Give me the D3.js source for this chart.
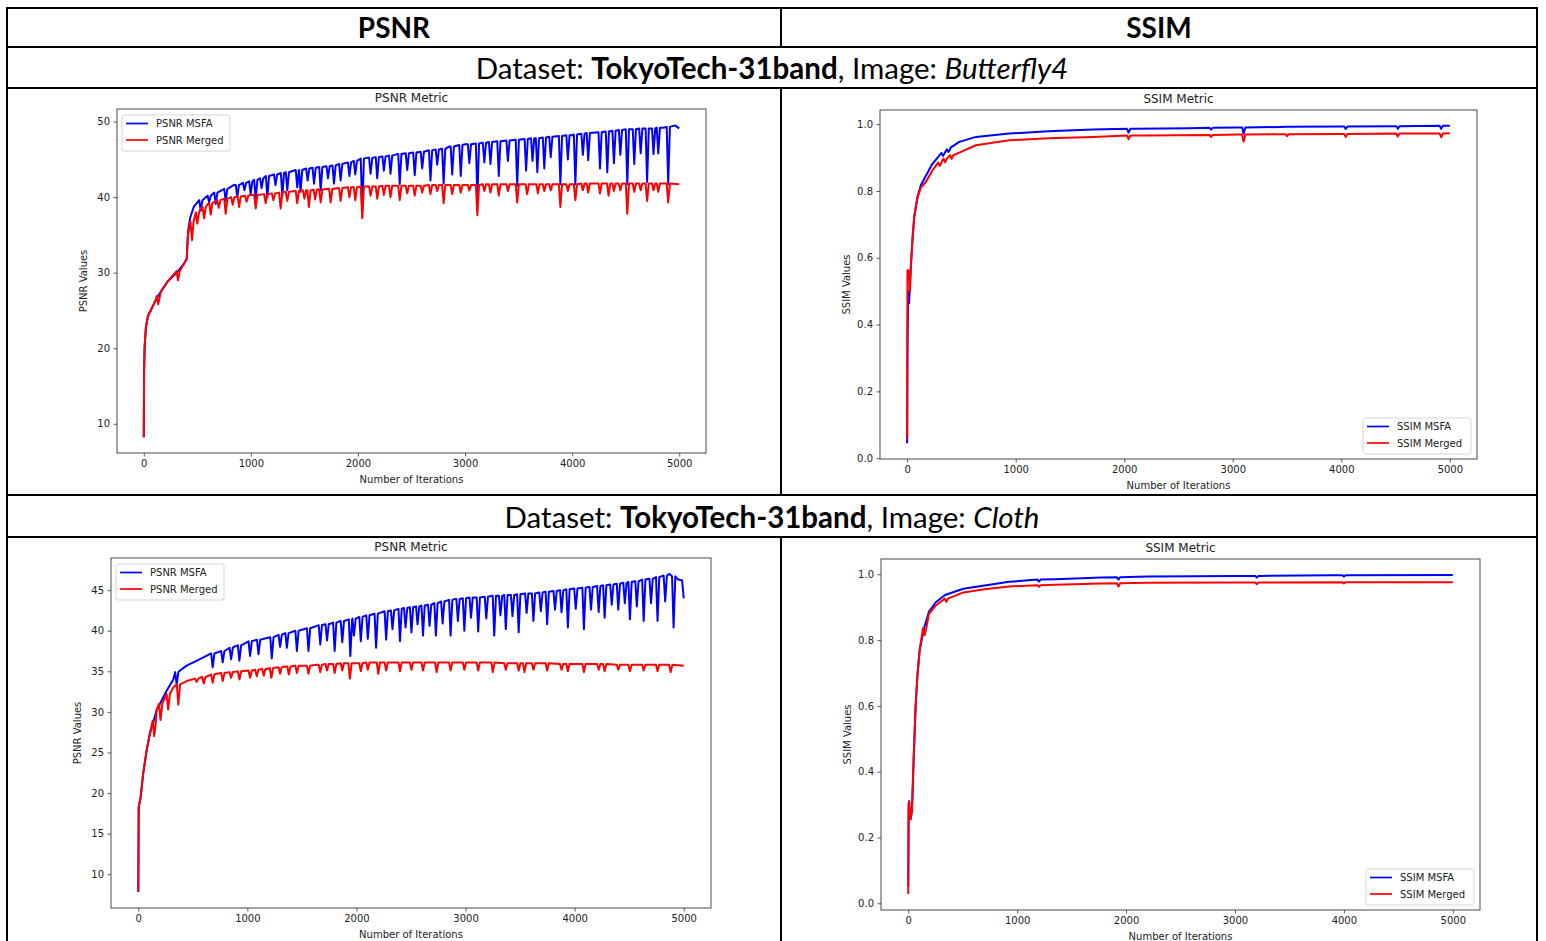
<!DOCTYPE html>
<html>
<head>
<meta charset="utf-8">
<script src="https://cdn.jsdelivr.net/npm/d3@7/dist/d3.min.js"></script>
<style>
  body { margin: 0; background: #fff; }
  .mpl text { font-family: "DejaVu Sans", sans-serif; fill: #222; }
  .cell { font-family: Lato, "Open Sans", sans-serif; fill: #000; }
</style>
</head>
<body>
<svg id="page" width="1546" height="941"></svg>
<script>
// ---- data ([iteration, value]; dips are [iteration, shoulder, bottom]) ----
const xTicks = [0, 1000, 2000, 3000, 4000, 5000];
const psnrTicksButterfly = [10, 20, 30, 40, 50];
const psnrTicksCloth = [10, 15, 20, 25, 30, 35, 40, 45];
const ssimTicks = [0, 0.2, 0.4, 0.6, 0.8, 1.0];

const headerLabels = ["PSNR", "SSIM"];
const datasetName = "TokyoTech-31band";
const imageNames = ["Butterfly4", "Cloth"];

// Butterfly4 - PSNR
const bflyPsnrMsfa = [[0,8.2],[3,17],[8,20.2],[20,22.8],[40,24.3],[65,25],[112,26.4],[160,27.5],[221,28.8],[314,30.1],[376,31.2],[401,31.8],
  [413,35.4],[432,37.2],[466,38.7],[532,39.6],[600,40.2],[687,40.8],[840,41.6],[1000,42.1],[1154,42.8],[1300,43.2],[1464,43.6],[1776,44.2],
  [2087,45.2],[2366,45.7],[2600,46],[2850,46.7],[3000,47],[3250,47.3],[3500,47.6],[3750,47.9],[4000,48.2],[4250,48.6],[4500,48.9],
  [4700,49.1],[4850,49.2],[4960,49.5],[5000,49.1]];
const bflyPsnrMsfaDips = [[532,39.6,38.2],[610,40.2,39.3],[672,40.6,39.1],[765,41.1,39.5],[873,41.6,40],[940,41.9,40.9],[998,42.1,40.4],
  [1045,42.3,39.6],[1100,42.5,41.2],[1154,42.8,40],[1230,43,41.6],[1294,43.2,40.2],[1340,43.3,40.9],[1433,43.6,41.3],[1464,43.6,40.7],
  [1530,43.8,42.2],[1590,43.9,41.8],[1652,44,40.9],[1720,44.1,42.5],[1776,44.2,41.8],[1838,44.4,42.2],[1920,44.6,42.8],[1975,44.8,43],
  [2040,45.1,38.2],[2118,45.2,43.1],[2180,45.3,42.5],[2242,45.4,43.5],[2304,45.5,43.1],[2390,45.7,41.7],[2460,45.8,43.6],[2530,45.9,42.9],
  [2600,46,43.8],[2677,46.2,42.2],[2740,46.3,44.3],[2800,46.4,41.8],[2880,46.7,43],[2960,46.9,42.8],[3040,47,44.5],[3115,47.1,40],
  [3180,47.2,44.6],[3237,47.3,44.4],[3315,47.4,42.8],[3400,47.5,44.8],[3487,47.6,41.5],[3570,47.7,43.5],[3630,47.8,44.8],[3675,47.8,43.3],
  [3740,47.9,43.8],[3800,48,45.3],[3890,48.1,41.7],[3960,48.2,45],[4030,48.3,41.7],[4100,48.4,45.6],[4150,48.5,44.9],[4260,48.6,43.8],
  [4328,48.7,43.3],[4390,48.8,44.5],[4450,48.9,45.6],[4515,49,41.7],[4580,49,44.4],[4640,49.1,45.8],[4700,49.1,42],[4760,49.1,45.7],
  [4804,49.2,45.8],[4897,49.3,41.7]];
const bflyPsnrMerged = [[0,8.2],[3,17],[8,20.2],[20,22.8],[40,24.3],[65,25],[112,26.4],[160,27.5],[221,28.8],[314,30.1],[376,31.2],[401,31.8],
  [413,35],[432,36.8],[466,37.6],[532,38.5],[600,39.1],[687,39.6],[840,40],[1000,40.3],[1154,40.5],[1300,40.7],[1464,40.9],[1776,41.1],
  [2087,41.4],[2400,41.5],[2800,41.6],[3300,41.7],[4000,41.7],[4500,41.8],[5000,41.7]];
const bflyPsnrMergedDips = [[135,26.9,25.8],[320,30.2,29],[450,36.8,34.3],[500,38,36.5],[563,38.7,37.2],[625,39.2,37.7],[700,39.6,38.6],
  [765,39.8,37.8],[830,40,39],[890,40.1,38.7],[960,40.2,39.4],[1045,40.3,38.5],[1138,40.4,39.2],[1210,40.5,39.6],[1278,40.6,38.5],
  [1340,40.7,39.5],[1433,40.8,39.2],[1500,40.9,39.8],[1542,40.9,38.7],[1600,41,39.7],[1652,41,39.3],[1745,41.1,39.3],[1838,41.2,39.5],
  [1920,41.3,40],[1975,41.3,39.6],[2040,41.4,37.2],[2118,41.4,40.2],[2180,41.4,39.8],[2242,41.5,40.3],[2304,41.5,40],[2390,41.5,39.6],
  [2460,41.5,40.5],[2530,41.5,40.2],[2600,41.5,40.6],[2677,41.6,40.4],[2740,41.6,40.8],[2800,41.6,39.2],[2880,41.6,40.4],[2960,41.6,40.6],
  [3040,41.6,40.9],[3115,41.6,37.6],[3180,41.7,40.8],[3237,41.7,40.6],[3315,41.7,40.2],[3400,41.7,40.8],[3487,41.7,39.3],[3580,41.7,40.4],
  [3680,41.7,40.5],[3740,41.7,40.8],[3800,41.7,40.9],[3890,41.7,38.7],[3960,41.7,40.8],[4030,41.7,39.6],[4100,41.8,40.9],[4150,41.8,40.6],
  [4260,41.8,40.5],[4340,41.8,40.2],[4390,41.8,40.8],[4450,41.8,40.9],[4515,41.8,37.8],[4580,41.8,40.7],[4640,41.8,40.9],[4700,41.8,39.5],
  [4760,41.8,40.9],[4804,41.8,40.7],[4897,41.8,39.3]];

// Butterfly4 - SSIM
const bflySsimMsfa = [[0,0.045],[4,0.35],[10,0.5],[18,0.464],[34,0.573],[49,0.653],[65,0.722],[95,0.782],[126,0.817],[172,0.845],
  [230,0.88],[326,0.912],[400,0.93],[480,0.947],[634,0.962],[941,0.972],[1300,0.979],[1710,0.984],[2100,0.986],[2600,0.988],
  [3054,0.99],[3500,0.992],[4000,0.993],[4500,0.994],[5000,0.995]];
const bflySsimMsfaDips = [[330,0.914,0.905],[380,0.925,0.917],[2040,0.986,0.975],[2800,0.989,0.984],[3100,0.99,0.972],[4040,0.993,0.986],
  [4520,0.994,0.986],[4920,0.995,0.986]];
const bflySsimMerged = [[0,0.06],[3,0.563],[18,0.56],[26,0.5],[34,0.573],[49,0.653],[65,0.722],[95,0.78],[126,0.81],[172,0.827],
  [230,0.86],[326,0.893],[480,0.915],[634,0.937],[941,0.952],[1300,0.958],[1710,0.962],[2200,0.966],[3054,0.969],[4000,0.971],[5000,0.973]];
const bflySsimMergedDips = [[300,0.885,0.875],[350,0.897,0.886],[410,0.907,0.896],[2040,0.966,0.955],[2800,0.968,0.962],[3100,0.969,0.948],
  [3500,0.97,0.964],[4040,0.971,0.962],[4520,0.972,0.963],[4920,0.972,0.961]];

// Cloth - PSNR
const clothPsnrMsfa = [[0,7.8],[4,18.3],[21,19.4],[45,22.4],[76,25.2],[106,27.3],[137,28.7],[168,30.2],[214,31.4],[260,32.6],[321,34],
  [382,35.1],[443,35.7],[566,36.5],[719,37.3],[872,38],[1025,38.7],[1178,39.1],[1331,39.6],[1484,40.05],[1637,40.6],[1790,41],[1944,41.4],
  [2097,41.8],[2342,42.6],[2500,43],[2700,43.3],[2900,43.9],[3100,44.1],[3300,44.3],[3500,44.5],[3700,44.7],[3900,45],[4130,45.4],
  [4350,45.7],[4550,46.1],[4760,46.6],[4870,47],[4950,46.3],[4985,46.2],[5000,44]];
const clothPsnrMsfaDips = [[352,34.9,33.4],[682,37.2,35.5],[774,37.5,36.1],[851,37.9,36.5],[927,38.2,36.3],[1025,38.7,36.9],[1102,38.9,37.1],
  [1224,39.2,36.6],[1300,39.5,38],[1362,39.7,37.9],[1454,40,37.5],[1560,40.3,37.5],[1668,40.7,38.3],[1730,40.8,38.8],[1800,41,37.5],
  [1870,41.2,38.6],[1944,41.4,36.9],[1977,41.5,39.4],[2040,41.7,38.7],[2104,41.9,39],[2180,42.1,37.9],[2272,42.4,38.9],[2330,42.5,40.2],
  [2399,42.7,38.7],[2450,42.8,40.4],[2504,42.9,39.8],[2560,43,40.8],[2610,43.1,39.4],[2670,43.2,40.6],[2728,43.4,39.4],[2790,43.6,40.9],
  [2863,43.8,39.4],[2930,43.9,41.2],[2989,44,40],[3050,44.1,41.6],[3116,44.1,39.9],[3190,44.2,41.5],[3263,44.3,39.4],[3320,44.3,41.9],
  [3369,44.4,40.2],[3430,44.4,41.8],[3487,44.5,39.8],[3560,44.6,42.2],[3622,44.6,41.2],[3690,44.7,42.4],[3748,44.8,40.8],[3820,44.9,42.6],
  [3880,45,42.3],[3938,45.1,40.4],[4010,45.2,42.7],[4085,45.3,40.2],[4150,45.4,42.6],[4220,45.5,42.3],[4275,45.6,41.6],[4340,45.7,43.2],
  [4400,45.8,42.6],[4460,45.9,43.4],[4507,46,41.4],[4570,46.1,43],[4633,46.3,41.2],[4700,46.4,43.4],[4760,46.6,41.2],[4830,46.8,43.6],
  [4907,46.7,40.4]];
const clothPsnrMerged = [[0,7.8],[4,18.3],[21,19.4],[45,22.4],[76,25.2],[106,27.3],[137,28.7],[168,30.2],[214,31.3],[260,32],[321,33],
  [382,33.6],[443,33.8],[566,34.2],[719,34.7],[872,34.9],[1025,35.1],[1178,35.3],[1331,35.55],[1484,35.7],[1637,35.8],[1790,35.9],
  [1944,36],[2342,36.1],[3000,36.1],[3500,36],[4000,35.9],[4500,35.8],[5000,35.7]];
const clothPsnrMergedDips = [[146,28.9,27],[204,31,29],[274,32.2,30.3],[367,33.4,30.9],[535,34.1,33.7],[600,34.3,33.5],[682,34.6,33.6],
  [774,34.8,33.8],[850,34.9,34.2],[927,35,34],[1025,35.1,34.2],[1086,35.2,34.4],[1150,35.3,34.5],[1220,35.4,34.2],[1300,35.5,34.7],
  [1380,35.6,34.6],[1454,35.7,34.8],[1560,35.7,34.7],[1668,35.8,34.9],[1730,35.9,35.1],[1800,35.9,34.8],[1870,36,35.1],[1940,36,34.1],
  [2040,36,35],[2104,36.1,35.2],[2200,36.1,34.7],[2272,36.1,35.1],[2399,36.1,35],[2504,36.1,35.2],[2610,36.1,35.1],[2735,36.1,34.9],
  [2863,36.1,35.1],[2989,36.1,35.2],[3116,36.1,35.1],[3250,36.1,34.9],[3369,36,35.2],[3487,36,35.1],[3540,36,34.9],[3622,36,35.2],
  [3748,36,35.1],[3880,35.9,35.2],[3938,35.9,35],[4085,35.9,34.9],[4220,35.9,35.2],[4275,35.9,35],[4400,35.8,35.2],[4507,35.8,35],
  [4633,35.8,35.1],[4760,35.8,35],[4880,35.8,34.9]];

// Cloth - SSIM
const clothSsimMsfa = [[0,0.05],[4,0.3],[8,0.31],[21,0.255],[34,0.28],[51,0.45],[68,0.6],[84,0.69],[105,0.77],[148,0.84],[190,0.886],
  [253,0.915],[338,0.937],[506,0.956],[717,0.967],[928,0.977],[1350,0.985],[1772,0.99],[2194,0.993],[3038,0.995],[3882,0.997],[5000,0.998]];
const clothSsimMsfaDips = [[1200,0.984,0.978],[1930,0.991,0.984],[3200,0.995,0.99],[4000,0.997,0.993]];
const clothSsimMerged = [[0,0.028],[4,0.3],[8,0.31],[21,0.255],[34,0.28],[51,0.45],[68,0.6],[84,0.69],[105,0.77],[148,0.835],[190,0.88],
  [253,0.905],[338,0.925],[506,0.945],[717,0.955],[928,0.963],[1350,0.968],[1772,0.972],[2194,0.974],[3038,0.975],[5000,0.976]];
const clothSsimMergedDips = [[150,0.836,0.815],[350,0.926,0.916],[1200,0.967,0.962],[1930,0.973,0.963],[3200,0.975,0.97],[4000,0.976,0.972]];

// ---- layout of the four plot panels (pixel boxes of the axes) ----
const panels = [
  { box: {l:117, r:706, t:109, b:453}, yDomain:[6.13, 51.67], yTicks: psnrTicksButterfly, fmt: d3.format("d"),
    title:"PSNR Metric", ylabel:"PSNR Values", names:["PSNR MSFA","PSNR Merged"], legend:"ul",
    msfa:[bflyPsnrMsfa, bflyPsnrMsfaDips], merged:[bflyPsnrMerged, bflyPsnrMergedDips] },
  { box: {l:880, r:1477, t:110, b:459}, yDomain:[-0.0025, 1.0425], yTicks: ssimTicks, fmt: d3.format(".1f"),
    title:"SSIM Metric", ylabel:"SSIM Values", names:["SSIM MSFA","SSIM Merged"], legend:"lr",
    msfa:[bflySsimMsfa, bflySsimMsfaDips], merged:[bflySsimMerged, bflySsimMergedDips] },
  { box: {l:111, r:711, t:558, b:908}, yDomain:[5.84, 48.96], yTicks: psnrTicksCloth, fmt: d3.format("d"),
    title:"PSNR Metric", ylabel:"PSNR Values", names:["PSNR MSFA","PSNR Merged"], legend:"ul",
    msfa:[clothPsnrMsfa, clothPsnrMsfaDips], merged:[clothPsnrMerged, clothPsnrMergedDips] },
  { box: {l:881, r:1480, t:559, b:910}, yDomain:[-0.0205, 1.0465], yTicks: ssimTicks, fmt: d3.format(".1f"),
    title:"SSIM Metric", ylabel:"SSIM Values", names:["SSIM MSFA","SSIM Merged"], legend:"lr",
    msfa:[clothSsimMsfa, clothSsimMsfaDips], merged:[clothSsimMerged, clothSsimMergedDips] }
];

const svg = d3.select("#page");

function buildPoints(trend, dips) {
  let pts = trend.filter(p => !dips.some(d => Math.abs(p[0] - d[0]) < 20));
  dips.forEach(function (d) {
    pts.push([d[0] - 14, d[1]], [d[0], d[2]], [d[0] + 16, d[1]]);
  });
  return pts.sort((a, b) => a[0] - b[0]);
}

// ---- table grid ----
const grid = svg.append("g").attr("stroke", "#000").attr("stroke-width", 2);
[8, 47, 88, 495, 537].forEach(function (y) {
  grid.append("line").attr("x1", 6).attr("x2", 1538).attr("y1", y).attr("y2", y);
});
grid.append("line").attr("x1", 7).attr("x2", 7).attr("y1", 7).attr("y2", 941);
grid.append("line").attr("x1", 1537).attr("x2", 1537).attr("y1", 7).attr("y2", 941);
[[8, 47], [88, 495], [537, 941]].forEach(function (s) {
  grid.append("line").attr("x1", 781).attr("x2", 781).attr("y1", s[0]).attr("y2", s[1]);
});

// header row
svg.append("text").attr("class", "cell").attr("x", 394).attr("y", 38)
  .attr("text-anchor", "middle").style("font-size", "28px").style("font-weight", "bold").text(headerLabels[0]);
svg.append("text").attr("class", "cell").attr("x", 1159).attr("y", 38)
  .attr("text-anchor", "middle").style("font-size", "28px").style("font-weight", "bold").text(headerLabels[1]);

// dataset rows
function datasetRow(y, img) {
  const t = svg.append("text").attr("class", "cell").attr("x", 772).attr("y", y)
    .attr("text-anchor", "middle").style("font-size", "29.5px");
  t.append("tspan").text("Dataset: ");
  t.append("tspan").style("font-weight", "bold").text(datasetName);
  t.append("tspan").text(", Image: ");
  t.append("tspan").style("font-style", "italic").text(img);
}
datasetRow(79, imageNames[0]);
datasetRow(528, imageNames[1]);

// ---- plot panels ----
panels.forEach(function (p) {
  const g = svg.append("g").attr("class", "mpl");
  const b = p.box;

  const x = d3.scaleLinear().domain([-250, 5250]).range([b.l, b.r]);
  const y = d3.scaleLinear().domain(p.yDomain).range([b.b, b.t]);

  const clipId = "clip" + b.l + "_" + b.t;
  g.append("clipPath").attr("id", clipId).append("rect")
    .attr("x", b.l).attr("y", b.t).attr("width", b.r - b.l).attr("height", b.b - b.t);

  const line = d3.line().x(d => x(d[0])).y(d => y(d[1]));
  const lines = g.append("g").attr("clip-path", "url(#" + clipId + ")");
  lines.append("path").datum(buildPoints(p.msfa[0], p.msfa[1]))
    .attr("d", line).attr("fill", "none").attr("stroke", "#0000ff").attr("stroke-width", 2)
    .attr("stroke-linejoin", "round");
  lines.append("path").datum(buildPoints(p.merged[0], p.merged[1]))
    .attr("d", line).attr("fill", "none").attr("stroke", "#ff0000").attr("stroke-width", 2)
    .attr("stroke-linejoin", "round");

  // axes
  const xAxis = d3.axisBottom(x).tickValues(xTicks).tickSize(3.5).tickPadding(3.5).tickFormat(d3.format("d"));
  const yAxis = d3.axisLeft(y).tickValues(p.yTicks).tickSize(3.5).tickPadding(3.5).tickFormat(p.fmt);
  const gx = g.append("g").attr("transform", "translate(0," + b.b + ")").call(xAxis);
  const gy = g.append("g").attr("transform", "translate(" + b.l + ",0)").call(yAxis);
  [gx, gy].forEach(function (a) {
    a.select(".domain").remove();
    a.selectAll(".tick line").attr("stroke", "#333").attr("stroke-width", 0.8);
    a.selectAll(".tick text").attr("fill", "#222").style("font-size", "10px").style("font-family", "DejaVu Sans");
  });

  // frame
  g.append("rect").attr("x", b.l).attr("y", b.t).attr("width", b.r - b.l).attr("height", b.b - b.t)
    .attr("fill", "none").attr("stroke", "#333").attr("stroke-width", 0.9);

  // title and axis labels
  g.append("text").attr("x", (b.l + b.r) / 2).attr("y", b.t - 7).attr("text-anchor", "middle")
    .style("font-size", "12px").text(p.title);
  g.append("text").attr("x", (b.l + b.r) / 2).attr("y", b.b + 30).attr("text-anchor", "middle")
    .style("font-size", "10px").text("Number of Iterations");
  g.append("text").attr("transform", "translate(" + (b.l - 30) + "," + ((b.t + b.b) / 2) + ") rotate(-90)")
    .attr("text-anchor", "middle").style("font-size", "10px").text(p.ylabel);

  // legend
  const lw = 108, lh = 36;
  const lx = p.legend === "ul" ? b.l + 5 : b.r - 6 - lw;
  const ly = p.legend === "ul" ? b.t + 6 : b.b - 5 - lh;
  const lg = g.append("g").attr("transform", "translate(" + lx + "," + ly + ")");
  lg.append("rect").attr("width", lw).attr("height", lh).attr("rx", 2.5)
    .attr("fill", "#fff").attr("fill-opacity", 0.85).attr("stroke", "#d0d0d0").attr("stroke-width", 0.9);
  const colors = ["#0000ff", "#ff0000"];
  p.names.forEach(function (n, i) {
    const yy = 8.5 + i * 16.5;
    lg.append("line").attr("x1", 4).attr("x2", 26).attr("y1", yy).attr("y2", yy)
      .attr("stroke", colors[i]).attr("stroke-width", 1.7);
    lg.append("text").attr("x", 34).attr("y", yy + 3.6).style("font-size", "10px").text(n);
  });
});
</script>
</body>
</html>
